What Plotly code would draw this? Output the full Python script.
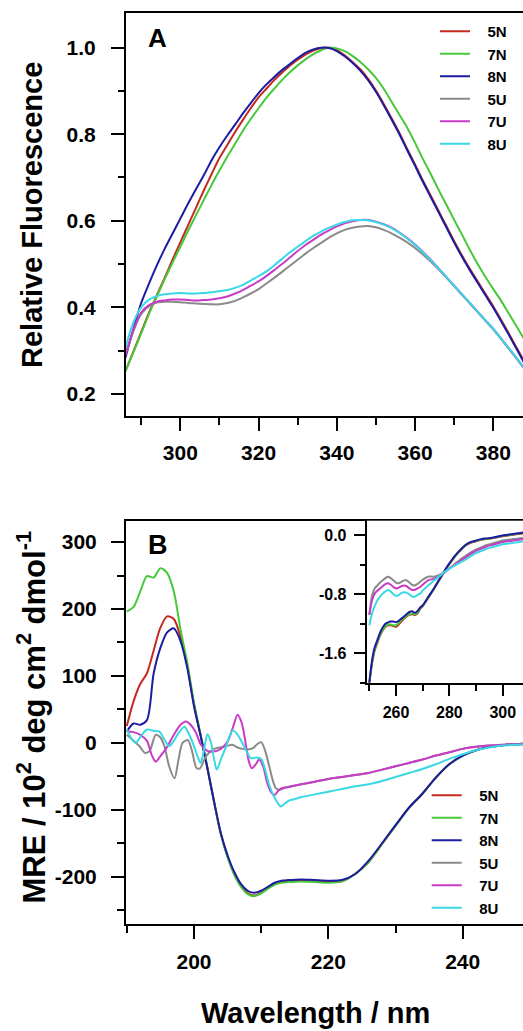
import plotly.graph_objects as go

# ---------------- Panel A: relative fluorescence ----------------
wl_A = list(range(286, 389, 2))
fl_5N = [0.253, 0.298, 0.343, 0.388, 0.428, 0.468, 0.51, 0.55, 0.59, 0.63, 0.67, 0.708, 0.745, 0.775, 0.805, 0.833,
         0.86, 0.885, 0.905, 0.925, 0.942, 0.958, 0.972, 0.984, 0.993, 0.999, 1.0, 0.994, 0.982, 0.967, 0.95, 0.928,
         0.901, 0.87, 0.837, 0.803, 0.766, 0.73, 0.693, 0.658, 0.623, 0.588, 0.553, 0.52, 0.489, 0.46, 0.431, 0.402,
         0.371, 0.339, 0.306, 0.273]
fl_7N = [0.253, 0.296, 0.34, 0.385, 0.425, 0.465, 0.503, 0.54, 0.577, 0.613, 0.648, 0.683, 0.716, 0.748, 0.778, 0.808,
         0.835, 0.86, 0.884, 0.905, 0.925, 0.943, 0.959, 0.973, 0.985, 0.994, 1.0, 0.998, 0.992, 0.981, 0.967, 0.95,
         0.93, 0.905, 0.875, 0.845, 0.815, 0.78, 0.743, 0.708, 0.672, 0.637, 0.602, 0.568, 0.533, 0.50, 0.47, 0.442,
         0.415, 0.385, 0.355, 0.325]
fl_8N = [0.284, 0.35, 0.41, 0.455, 0.497, 0.535, 0.57, 0.605, 0.64, 0.673, 0.705, 0.74, 0.77, 0.797, 0.822, 0.848,
         0.872, 0.895, 0.915, 0.932, 0.948, 0.962, 0.976, 0.988, 0.996, 1.0, 0.999, 0.992, 0.98, 0.965, 0.947, 0.925,
         0.898, 0.867, 0.834, 0.80, 0.763, 0.727, 0.69, 0.655, 0.62, 0.585, 0.55, 0.517, 0.486, 0.457, 0.428, 0.399,
         0.368, 0.336, 0.303, 0.27]
fl_5U = [0.29, 0.345, 0.385, 0.403, 0.411, 0.413, 0.413, 0.412, 0.41, 0.409, 0.408, 0.407, 0.407, 0.41, 0.415, 0.423,
         0.432, 0.442, 0.455, 0.468, 0.482, 0.496, 0.51, 0.524, 0.537, 0.549, 0.561, 0.571, 0.579, 0.584, 0.587, 0.588,
         0.585, 0.579, 0.571, 0.561, 0.55, 0.537, 0.522, 0.506, 0.488, 0.469, 0.449, 0.429, 0.409, 0.389, 0.369, 0.349,
         0.327, 0.304, 0.281, 0.257]
fl_7U = [0.29, 0.348, 0.388, 0.405, 0.413, 0.416, 0.418, 0.418, 0.417, 0.416, 0.417, 0.418, 0.421, 0.425, 0.432, 0.44,
         0.45, 0.46, 0.472, 0.486, 0.50, 0.515, 0.53, 0.544, 0.556, 0.568, 0.578, 0.587, 0.594, 0.599, 0.602, 0.602,
         0.598, 0.592, 0.584, 0.573, 0.56, 0.545, 0.528, 0.51, 0.49, 0.47, 0.45, 0.43, 0.41, 0.39, 0.37, 0.35,
         0.328, 0.305, 0.282, 0.258]
fl_8U = [0.307, 0.365, 0.40, 0.418, 0.426, 0.43, 0.432, 0.433, 0.432, 0.432, 0.433, 0.435, 0.437, 0.44, 0.445, 0.452,
         0.462, 0.472, 0.483, 0.497, 0.512, 0.527, 0.54, 0.553, 0.565, 0.575, 0.584, 0.591, 0.597, 0.601, 0.602, 0.601,
         0.597, 0.591, 0.583, 0.572, 0.559, 0.544, 0.527, 0.509, 0.49, 0.47, 0.45, 0.43, 0.41, 0.39, 0.37, 0.35,
         0.328, 0.305, 0.282, 0.258]

# ---------------- Panel B: far-UV CD (MRE) ----------------
wl_B_N = [190, 191, 192, 193, 194, 195, 196, 197, 198, 199, 200, 201, 202, 203, 204, 205, 206, 207, 208, 209, 210,
          211, 212, 213, 214, 216, 218, 220, 222, 224, 226, 228, 230, 232, 234, 236, 238, 240, 242, 244, 246, 248, 249]
mre_5N = [25, 62, 88, 104, 138, 172, 189, 185, 158, 115, 57, 10, -38, -89, -136, -170, -196, -214, -225, -228, -224,
          -217, -211, -208, -207, -206, -207, -208, -207, -196, -178, -151, -124, -97, -76, -52, -32, -19, -11, -6,
          -3.5, -2, -1.5]
mre_7N = [196, 203, 226, 249, 247, 261, 254, 226, 169, 120, 60, 12, -37, -89, -137, -171, -197, -215, -226, -229, -225,
          -218, -212, -209, -208, -207, -208, -209, -207, -196, -178, -151, -124, -97, -76, -52, -32, -19, -11, -6,
          -3.5, -2, -1.5]
mre_8N = [17, 29, 27, 34, 104, 142, 165, 171, 152, 112, 55, 10, -38, -88, -135, -168, -193, -211, -221, -224, -221,
          -215, -209, -206, -205, -204, -205, -206, -205, -196, -176, -150, -123, -97, -76, -52, -32, -19, -11, -6,
          -3.5, -2, -1.5]
wl_B_5U = [190, 191, 191.9, 192.7, 193.4, 194.3, 195, 195.6, 196.3, 197.1, 197.7, 198.3, 199.1, 199.7, 200.4, 200.9,
           201.8, 202.8, 203.8, 204.8, 205.7, 206.5, 207.2, 208, 208.8, 209.4, 210, 210.6, 211.2, 211.7, 212.2, 212.8,
           213.5, 214, 216, 218, 220, 222, 224, 226, 228, 230, 232, 234, 236, 238, 240, 242, 244, 246, 248, 249]
mre_5U = [12, 3, -5, -15, -12, 12, 8, -5, -35, -53, -25, 0, 4, -12, -38, -38, -20, -10, -7, -5, -3, -7, -9, -10, -8,
          -2, 1, -12, -35, -55, -68, -70, -67, -66, -62, -58, -54, -51, -48, -45, -40, -35, -30, -25, -19, -14, -9,
          -6, -4, -3, -2, -2]
wl_B_7U = [190, 191, 192, 193, 193.7, 194.3, 195, 196, 197, 198, 198.8, 199.5, 200.3, 201, 202, 203, 204, 205, 205.7,
           206.5, 207.1, 207.6, 208.1, 208.6, 209.2, 209.7, 210.3, 210.9, 211.5, 212, 212.5, 213, 214, 216, 218, 220,
           222, 224, 226, 228, 230, 232, 234, 236, 238, 240, 242, 244, 246, 248, 249]
mre_7U = [17, 16, 12, 3, -18, -28, -20, -6, 12, 27, 32, 27, 15, -2, -12, -13, -9, 2, 20, 42, 30, 5, -25, -38, -32,
          -25, -35, -60, -74, -78, -72, -68, -66, -62, -58, -54, -51, -48, -45, -40, -35, -30, -25, -19, -14, -9, -6,
          -4, -3, -2, -2]
wl_B_8U = [190, 190.6, 191.3, 192.1, 193, 194, 194.8, 195.6, 196.3, 197, 197.8, 198.6, 199.3, 200, 200.6, 201, 201.5,
           202, 202.5, 203, 203.4, 204, 204.8, 205.3, 205.8, 206.5, 207.2, 207.8, 208.5, 209.3, 210, 210.6, 211.2, 212,
           212.9, 213.5, 214.2, 215, 216, 218, 220, 222, 224, 226, 228, 230, 232, 234, 236, 238, 240, 242, 244, 246,
           248, 249]
mre_8U = [20, 8, 0, 10, 20, 18, 17, 5, -5, 3, 16, 24, 12, -5, -22, -30, -10, 13, 2, -25, -40, -25, -5, 10, 19, 12, 0,
          -12, -23, -22, -24, -40, -63, -82, -95, -91, -86, -84, -81, -77, -73, -69, -65, -62, -57, -51, -45, -39,
          -32, -24, -17, -11, -7, -4, -3, -2]

# ---------------- Inset: near-UV CD ----------------
wl_in = [250, 251, 252, 253, 254, 255, 256, 257, 258, 259, 260, 261, 262, 263, 264, 265, 266, 267, 268, 269, 270,
         272, 274, 276, 278, 280, 282, 284, 286, 288, 290, 292, 294, 296, 298, 300, 302, 304, 306, 308]
in_5N = [-2.0, -1.74, -1.56, -1.46, -1.36, -1.29, -1.24, -1.22, -1.22, -1.23, -1.24, -1.21, -1.17, -1.13, -1.1, -1.08,
         -1.07, -1.08, -1.06, -1.0, -0.96, -0.85, -0.74, -0.62, -0.5, -0.39, -0.29, -0.21, -0.14, -0.1, -0.08, -0.06,
         -0.05, -0.04, -0.025, -0.01, 0.0, 0.01, 0.02, 0.03]
in_7N = [-2.0, -1.73, -1.55, -1.45, -1.35, -1.28, -1.23, -1.21, -1.21, -1.22, -1.22, -1.19, -1.15, -1.12, -1.09, -1.07,
         -1.06, -1.07, -1.05, -0.99, -0.955, -0.845, -0.735, -0.615, -0.495, -0.385, -0.285, -0.205, -0.135, -0.095,
         -0.075, -0.055, -0.045, -0.035, -0.02, -0.005, 0.005, 0.015, 0.025, 0.035]
in_8N = [-2.0, -1.7, -1.52, -1.42, -1.32, -1.25, -1.2, -1.18, -1.17, -1.17, -1.18, -1.16, -1.13, -1.1, -1.07, -1.04,
         -1.03, -1.05, -1.03, -0.98, -0.95, -0.84, -0.73, -0.61, -0.49, -0.38, -0.28, -0.2, -0.13, -0.09, -0.07, -0.05,
         -0.04, -0.03, -0.015, 0.0, 0.01, 0.02, 0.03, 0.04]
in_5U = [-1.08, -0.82, -0.72, -0.68, -0.64, -0.61, -0.58, -0.56, -0.58, -0.61, -0.64, -0.65, -0.63, -0.61, -0.61, -0.64,
         -0.67, -0.68, -0.66, -0.63, -0.6, -0.56, -0.56, -0.54, -0.5, -0.45, -0.39, -0.33, -0.28, -0.23, -0.19, -0.16,
         -0.13, -0.11, -0.09, -0.07, -0.06, -0.05, -0.04, -0.035]
in_7U = [-1.08, -0.88, -0.79, -0.75, -0.72, -0.69, -0.66, -0.65, -0.67, -0.7, -0.72, -0.71, -0.69, -0.68, -0.69, -0.72,
         -0.74, -0.74, -0.72, -0.7, -0.67, -0.61, -0.59, -0.56, -0.51, -0.45, -0.4, -0.35, -0.3, -0.25, -0.21, -0.18,
         -0.15, -0.13, -0.11, -0.09, -0.08, -0.07, -0.06, -0.05]
in_8U = [-1.22, -1.06, -0.96, -0.88, -0.83, -0.79, -0.76, -0.74, -0.76, -0.8, -0.82, -0.81, -0.78, -0.77, -0.78, -0.8,
         -0.83, -0.83, -0.81, -0.79, -0.75, -0.68, -0.62, -0.56, -0.5, -0.45, -0.41, -0.37, -0.33, -0.28, -0.24, -0.21,
         -0.18, -0.16, -0.14, -0.12, -0.11, -0.1, -0.09, -0.08]

series_names = ["5N", "7N", "8N", "5U", "7U", "8U"]
series_colors = ["#c42a20", "#46c83a", "#1c1ca0", "#8a8a8a", "#c83ac8", "#3ad8e4"]

# tick labels
A_xticks = [300, 320, 340, 360, 380]
A_xtext = ["300", "320", "340", "360", "380"]
A_yticks = [0.2, 0.4, 0.6, 0.8, 1.0]
A_ytext = ["0.2", "0.4", "0.6", "0.8", "1.0"]
B_xticks = [200, 220, 240]
B_xtext = ["200", "220", "240"]
B_yticks = [-200, -100, 0, 100, 200, 300]
B_ytext = ["-200", "-100", "0", "100", "200", "300"]
I_xticks = [260, 280, 300]
I_xtext = ["260", "280", "300"]
I_yticks = [-1.6, -0.8, 0.0]
I_ytext = ["-1.6", "-0.8", "0.0"]

FONT = "Liberation Sans, Arial, Helvetica, sans-serif"
PAD = "\u00a0\u00a0\u00a0"
W, H = 523, 1031

fig = go.Figure()

A_data = [fl_5N, fl_7N, fl_8N, fl_5U, fl_7U, fl_8U]
for nm, col, ys in zip(series_names, series_colors, A_data):
    fig.add_trace(go.Scatter(x=wl_A, y=ys, mode="lines", name=PAD + nm, legend="legend",
                             line=dict(color=col, width=2, shape="spline", smoothing=0.8),
                             xaxis="x", yaxis="y"))

B_data = [(wl_B_N, mre_5N), (wl_B_N, mre_7N), (wl_B_N, mre_8N),
          (wl_B_5U, mre_5U), (wl_B_7U, mre_7U), (wl_B_8U, mre_8U)]
for nm, col, (xs, ys) in zip(series_names, series_colors, B_data):
    fig.add_trace(go.Scatter(x=xs, y=ys, mode="lines", name=PAD + nm, legend="legend2",
                             line=dict(color=col, width=2, shape="spline", smoothing=0.8),
                             xaxis="x2", yaxis="y2"))

I_data = [in_5N, in_7N, in_8N, in_5U, in_7U, in_8U]
for nm, col, ys in zip(series_names, series_colors, I_data):
    fig.add_trace(go.Scatter(x=wl_in, y=ys, mode="lines", name=nm, showlegend=False,
                             line=dict(color=col, width=2, shape="spline", smoothing=0.8),
                             xaxis="x3", yaxis="y3"))


def ax(size, ticklen, minorlen, **kw):
    d = dict(showline=True, linecolor="black", linewidth=2, ticks="outside", ticklen=ticklen,
             tickwidth=2, tickcolor="black", showgrid=False, zeroline=False, tickmode="array",
             tickfont=dict(family=FONT, size=size, color="black", weight="bold"),
             minor=dict(ticks="outside", ticklen=minorlen, tickwidth=2, tickcolor="black", showgrid=False))
    d.update(kw)
    return d


def py(p):
    return 1 - p / H


x_dom = [126 / W, 1.0]
fig.update_layout(
    width=W, height=H, margin=dict(l=0, r=0, t=0, b=0),
    paper_bgcolor="white", plot_bgcolor="white",
    xaxis=ax(21, 13, 7, domain=x_dom, anchor="y", range=[286.12, 387.59], mirror=True,
             tickvals=A_xticks, ticktext=A_xtext, ticklabelstandoff=4,
             minor=dict(ticks="outside", ticklen=7, tickwidth=2, tickcolor="black", dtick=10, tick0=280)),
    yaxis=ax(21, 13, 6, domain=[py(416), py(13)], anchor="x", range=[0.149, 1.080],
             tickvals=A_yticks, ticktext=A_ytext, ticklabelstandoff=11,
             minor=dict(ticks="outside", ticklen=6, tickwidth=2, tickcolor="black", dtick=0.1, tick0=0)),
    xaxis2=ax(21, 13, 7, domain=x_dom, anchor="y2", range=[189.88, 248.98], mirror=True,
              tickvals=B_xticks, ticktext=B_xtext, ticklabelstandoff=4,
              minor=dict(ticks="outside", ticklen=7, tickwidth=2, tickcolor="black", dtick=10, tick0=180)),
    yaxis2=ax(21, 13, 7, domain=[py(924.3), py(520.7)], anchor="x2", range=[-271.1, 331.9],
              tickvals=B_yticks, ticktext=B_ytext, ticklabelstandoff=10,
              minor=dict(ticks="outside", ticklen=7, tickwidth=2, tickcolor="black", dtick=50, tick0=0)),
    xaxis3=ax(16, 11, 6, domain=[366.7 / W, 1.0], anchor="y3", range=[249.0, 307.6],
              tickvals=I_xticks, ticktext=I_xtext, ticklabelstandoff=3,
              minor=dict(ticks="outside", ticklen=6, tickwidth=2, tickcolor="black", dtick=10, tick0=240)),
    yaxis3=ax(16, 11, 5, domain=[py(682.7), py(520.7)], anchor="x3", range=[-2.0, 0.2],
              tickvals=I_yticks, ticktext=I_ytext, ticklabelstandoff=4,
              minor=dict(ticks="outside", ticklen=5, tickwidth=2, tickcolor="black", dtick=0.4, tick0=0)),
    legend=dict(x=435 / W, y=py(15), xanchor="left", yanchor="top", bgcolor="rgba(0,0,0,0)",
                font=dict(family=FONT, size=15, color="black", weight="bold"), tracegroupgap=0),
    legend2=dict(x=426.7 / W, y=py(779), xanchor="left", yanchor="top", bgcolor="rgba(0,0,0,0)",
                 font=dict(family=FONT, size=15, color="black", weight="bold"), tracegroupgap=0),
)

ann_font = dict(family=FONT, size=29, color="black", weight="bold")
fig.add_annotation(text="Relative Fluorescence", xref="paper", yref="paper", x=32 / W, y=py(215),
                   xanchor="center", yanchor="middle", textangle=-90, showarrow=False, font=ann_font)
fig.add_annotation(text="MRE / 10<sup>2</sup> deg cm<sup>2</sup> dmol<sup>-1</sup>", xref="paper", yref="paper",
                   x=31 / W, y=py(717.5), xanchor="center", yanchor="middle", textangle=-90, showarrow=False,
                   font=dict(family=FONT, size=31, color="black", weight="bold"))
fig.add_annotation(text="Wavelength / nm", xref="paper", yref="paper", x=315.7 / W, y=py(1013),
                   xanchor="center", yanchor="middle", showarrow=False, font=ann_font)
fig.add_annotation(text="A", xref="paper", yref="paper", x=146 / W, y=py(38), xanchor="left", yanchor="middle",
                   showarrow=False, font=dict(family=FONT, size=26, color="black", weight="bold"))
fig.add_annotation(text="B", xref="paper", yref="paper", x=146 / W, y=py(545), xanchor="left", yanchor="middle",
                   showarrow=False, font=dict(family=FONT, size=27, color="black", weight="bold"))

fig.write_html("out.html")
